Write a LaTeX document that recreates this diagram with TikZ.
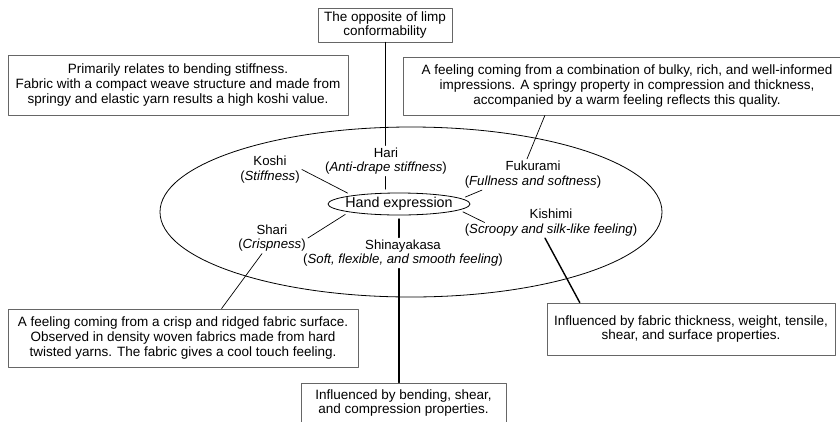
\documentclass[tikz,border=0pt]{standalone}
\usepackage{fontspec}
\setmainfont{Liberation Sans}
\usetikzlibrary{calc,shapes.geometric}

\begin{document}
\begin{tikzpicture}[line cap=round,line join=round,x=1pt,y=-1pt,
  infobox/.style={draw=black!60,line width=0.9pt,align=center,inner sep=0pt,font=\fontsize{13.5}{14.8}\selectfont},
  term/.style={align=center,inner sep=2pt,font=\fontsize{13.2}{14.5}\selectfont},
  link/.style={line width=0.7pt},
  thicklink/.style={line width=1.4pt}]
\useasboundingbox (0,0) rectangle (840,421);
% outer ellipse
\draw[line width=0.8pt] (411,212) ellipse [x radius=251, y radius=85];
% boxes
\node[infobox,minimum width=134pt,minimum height=34pt] (opp) at (385,25) {The opposite of limp\\conformability};
\node[infobox,minimum width=340pt,minimum height=60pt] (koshibox) at (178,85) {Primarily relates to bending stiffness.\\Fabric with a compact weave structure and made from\\springy and elastic yarn results a high koshi value.};
\node[infobox,minimum width=448pt,minimum height=58pt] (fukubox) at (627,86) {A feeling coming from a combination of bulky, rich, and well-informed\\impressions. A springy property in compression and thickness,\\accompanied by a warm feeling reflects this quality.};
\node[infobox,minimum width=350pt,minimum height=58pt] (sharibox) at (183,338) {A feeling coming from a crisp and ridged fabric surface.\\Observed in density woven fabrics made from hard\\twisted yarns. The fabric gives a cool touch feeling.};
\node[infobox,minimum width=288pt,minimum height=52pt] (kishbox) at (691,329) {Influenced by fabric thickness, weight, tensile,\\shear, and surface properties.};
\node[infobox,minimum width=205pt,minimum height=40pt] (bend) at (403.5,403) {Influenced by bending, shear,\\and compression properties.};
% centre
\node[draw,ellipse,line width=0.8pt,minimum width=142pt,minimum height=22pt,inner sep=0pt,outer sep=4pt,font=\fontsize{14.3}{16}\selectfont] (hand) at (399,204) {\makebox[0pt]{Hand expression}};
% terms
\node[term] (hari) at (386,161) {Hari\\(\textit{Anti-drape stiffness})};
\node[term] (koshi) at (270,169.5) {Koshi\\(\textit{Stiffness})};
\node[term] (fuku) at (533,174.5) {Fukurami\\(\textit{Fullness and softness})};
\node[term] (kishi) at (551,222.5) {Kishimi\\(\textit{Scroopy and silk-like feeling})};
\node[term] (shari) at (272,238) {Shari\\(\textit{Crispness})};
\node[term] (shina) at (403,253) {Shinayakasa\\(\textit{Soft, flexible, and smooth feeling})};
% connectors
\draw[line width=1pt] (opp.south) -- (opp.south |- hari.north);
\draw[line width=1pt] (hari.south -| opp.south) -- (hand.north -| opp.south);
\draw[link] (koshi.east) -- (hand.168);
\draw[link] (shari.east) -- (hand.191);
\draw[link] (fuku.197) -- (hand.6);
\draw[link] (hand.-7) -- ([xshift=22pt]kishi.west);
\draw[link] ($(fukubox.south west)!0.317!(fukubox.south east)$) -- ([xshift=-6pt]fuku.north);
\draw[link] ([xshift=-10pt]shari.south) -- ($(sharibox.north west)!0.61!(sharibox.north east)$);
\draw[thicklink] ([xshift=-6pt]kishi.south) -- ($(kishbox.north west)!0.115!(kishbox.north east)$);
\draw[thicklink] (hand.south) -- (hand.south |- shina.north);
\draw[thicklink] (shina.south -| hand.south) -- (bend.north -| hand.south);
\end{tikzpicture}
\end{document}
